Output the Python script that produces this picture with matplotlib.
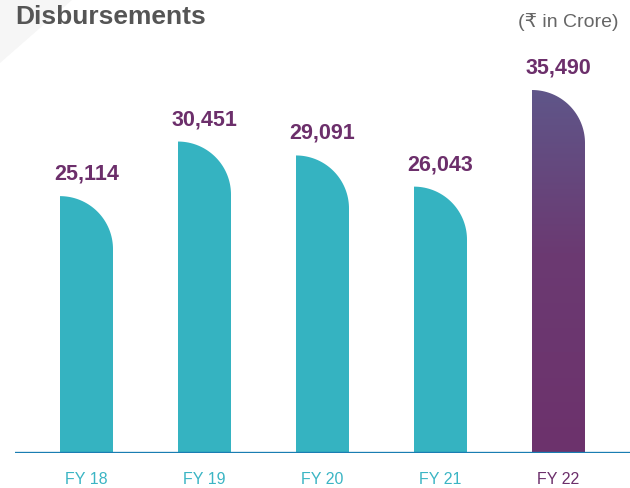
import numpy as np
import matplotlib.pyplot as plt
from matplotlib.path import Path
from matplotlib.patches import PathPatch, Polygon
from matplotlib.colors import LinearSegmentedColormap

years = ["FY 18", "FY 19", "FY 20", "FY 21", "FY 22"]
values = [25114, 30451, 29091, 26043, 35490]
labels = ["25,114", "30,451", "29,091", "26,043", "35,490"]

teal = "#35b3c1"
purple = "#6c2f6b"
W, H = 630, 488
fig = plt.figure(figsize=(W / 100, H / 100), dpi=100)
fig.patch.set_facecolor("white")

# faint corner triangle in the background
fig.patches.append(Polygon([[0, 1], [72 / W, 1], [0, 1 - 63 / H]], closed=True,
                           transform=fig.transFigure, facecolor="#f6f6f6",
                           edgecolor="none", zorder=0))

# axes: baseline at y=453px, x from 15px to 630px
ax = fig.add_axes([15 / W, 1 - 453 / H, 615 / W, 453 / H])
ax.set_facecolor("none")
px_per_unit = 363 / 35490.0
ax.set_ylim(0, 453 / px_per_unit)
step = 118.0
ax.set_xlim(-(86.5 - 15) / step, 4 + (630 - 558.5) / step)
ax.axis("off")

bw = 53 / step
ry = 53 / px_per_unit
fam = ["Liberation Sans", "DejaVu Sans"]


def bar_path(xc, h):
    x0 = xc - bw / 2
    x1 = xc + bw / 2
    verts = [(x0, 0), (x0, h)]
    t = np.linspace(np.pi / 2, 0, 40)
    for a in t:
        verts.append((x0 + bw * np.cos(a), h - ry + ry * np.sin(a)))
    verts += [(x1, 0), (x0, 0)]
    return Path(verts, closed=True)


for i, v in enumerate(values):
    p = bar_path(i, v)
    if i < len(values) - 1:
        ax.add_patch(PathPatch(p, facecolor=teal, edgecolor="none", zorder=2))
    else:
        patch = PathPatch(p, facecolor="none", edgecolor="none", zorder=2)
        ax.add_patch(patch)
        cmap = LinearSegmentedColormap.from_list(
            "g", [(0, "#6d326c"), (0.55, "#6b3a72"), (1, "#5f5689")])
        grad = np.linspace(0, 1, 256).reshape(-1, 1)
        im = ax.imshow(grad, cmap=cmap, origin="lower", aspect="auto",
                       extent=[i - bw / 2, i + bw / 2, 0, v], zorder=2)
        im.set_clip_path(patch)
    ax.text(i, v + 22 / px_per_unit, labels[i], ha="center", va="center",
            fontsize=15.5, fontweight="bold", color=purple,
            family=fam, zorder=3)
    ax.text(i, -26 / px_per_unit, years[i], ha="center", va="center",
            fontsize=11.5, color=purple if i == len(values) - 1 else "#3bb5c4",
            family=fam, clip_on=False)

ax.axhline(0, color="#1a7db2", linewidth=2.4, zorder=4)
ax.set_xlim(-(86.5 - 15) / step, 4 + (630 - 558.5) / step)

fig.text(15 / W, 1 - 17 / H, "Disbursements", ha="left", va="center",
         fontsize=19, fontweight="bold", color="#555555", family=fam)
fig.text(618 / W, 1 - 22 / H, "(\u20b9 in Crore)", ha="right", va="center",
         fontsize=14, color="#666666", family=fam)

fig.savefig("out.png", dpi=100, facecolor="white")
